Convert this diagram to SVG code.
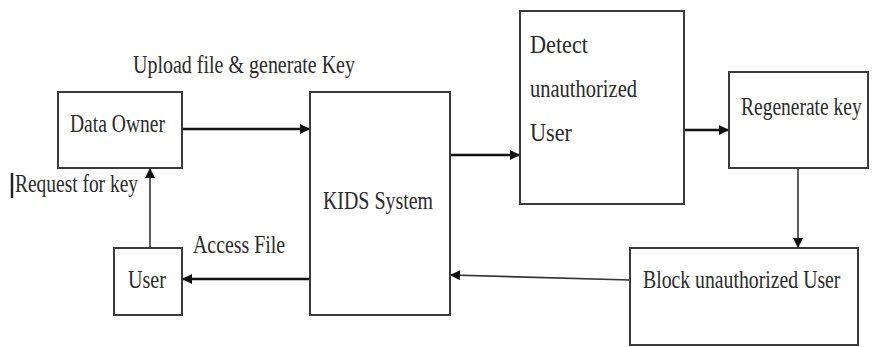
<svg xmlns="http://www.w3.org/2000/svg" width="873" height="347" viewBox="0 0 873 347">
<style>
.box{fill:#fff;stroke:#3a3a3a;stroke-width:2}
.t{font-family:"Liberation Serif","Times New Roman",serif;font-size:26px;fill:#2a2a2a}
.c{stroke:#111;stroke-width:2.5;fill:none}
.ct{stroke:#333;stroke-width:1.6;fill:none}
</style>
<defs>
<marker id="ah" markerWidth="10" markerHeight="10" refX="9" refY="5" orient="auto" markerUnits="userSpaceOnUse">
<path d="M0,0 L10,5 L0,10 Z" fill="#111"/>
</marker>
</defs>
<rect width="873" height="347" fill="#fff"/>
<g id="connectors">
<line class="c" x1="182" y1="129" x2="309" y2="129" marker-end="url(#ah)"/>
<line class="ct" x1="150" y1="248" x2="150" y2="169" marker-end="url(#ah)"/>
<line class="c" x1="310" y1="279" x2="183" y2="279" marker-end="url(#ah)"/>
<line class="c" x1="450" y1="155" x2="519" y2="155" marker-end="url(#ah)"/>
<line class="c" x1="684" y1="130" x2="728" y2="130" marker-end="url(#ah)"/>
<line class="ct" x1="798" y1="168" x2="798" y2="247" marker-end="url(#ah)"/>
<line class="ct" x1="630" y1="280" x2="451" y2="275" marker-end="url(#ah)"/>
</g>
<g id="label-upload"><text class="t" x="133" y="73" textLength="222" lengthAdjust="spacingAndGlyphs">Upload file &amp; generate Key</text></g>
<g id="label-request"><line x1="12" y1="173" x2="12" y2="198" stroke="#223" stroke-width="2.5"/><text class="t" x="15" y="192" textLength="123" lengthAdjust="spacingAndGlyphs">Request for key</text></g>
<g id="label-access"><text class="t" x="193" y="253" textLength="92" lengthAdjust="spacingAndGlyphs">Access File</text></g>
<g id="data-owner">
<rect class="box" x="58" y="92" width="124" height="76"/>
<text class="t" x="70" y="132" textLength="95" lengthAdjust="spacingAndGlyphs">Data Owner</text>
</g>
<g id="user">
<rect class="box" x="114" y="248" width="68" height="67"/>
<text class="t" x="128" y="288" textLength="38" lengthAdjust="spacingAndGlyphs">User</text>
</g>
<g id="kids-system">
<rect class="box" x="310" y="92" width="140" height="223"/>
<text class="t" x="323" y="209" textLength="110" lengthAdjust="spacingAndGlyphs">KIDS System</text>
</g>
<g id="detect">
<rect class="box" x="520" y="11" width="164" height="193"/>
<text class="t" x="530" y="53" textLength="58" lengthAdjust="spacingAndGlyphs">Detect</text>
<text class="t" x="530" y="97" textLength="107" lengthAdjust="spacingAndGlyphs">unauthorized</text>
<text class="t" x="530" y="141" textLength="42" lengthAdjust="spacingAndGlyphs">User</text>
</g>
<g id="regenerate">
<rect class="box" x="729" y="72" width="139" height="96"/>
<text class="t" transform="translate(741,115) scale(0.75,1)" x="0" y="0">Regenerate key</text>
</g>
<g id="block">
<rect class="box" x="630" y="248" width="228" height="97"/>
<text class="t" transform="translate(643,288) scale(0.76,1)" x="0" y="0">Block unauthorized User</text>
</g>
</svg>
